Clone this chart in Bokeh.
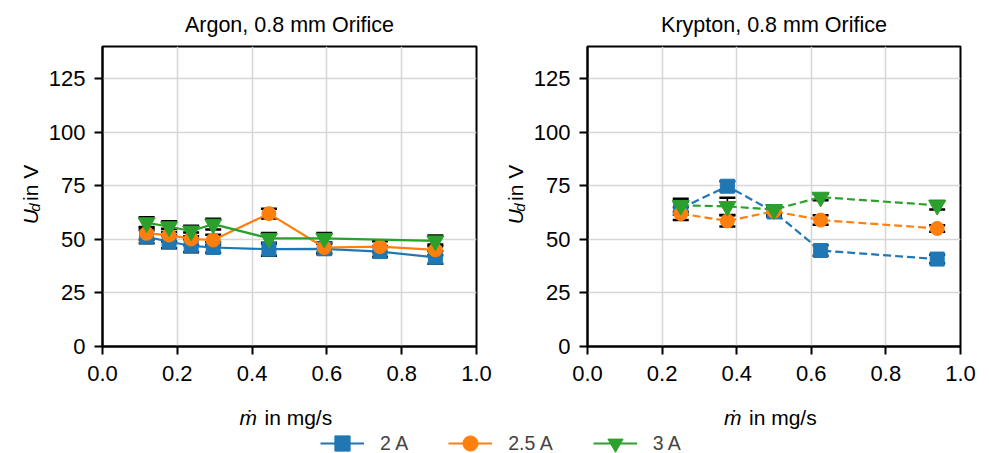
import math
from bokeh.plotting import figure
from bokeh.models import (FixedTicker, PrintfTickFormatter, Whisker, TeeHead,
                          ColumnDataSource, Legend, LegendItem, Range1d)
from bokeh.core.properties import value
from bokeh.layouts import row, column
from bokeh.embed import file_html
from bokeh.resources import INLINE

# ---------------- data ----------------
ar_x_2 = [0.118, 0.178, 0.237, 0.296, 0.445, 0.593, 0.742, 0.890]
ar_y_2 = [51.2, 48.9, 47.0, 46.2, 45.4, 45.6, 44.3, 41.6]
ar_e_2 = [3.0, 3.0, 3.0, 2.5, 3.0, 2.5, 2.5, 3.0]

ar_x_25 = [0.118, 0.178, 0.237, 0.296, 0.445, 0.593, 0.742, 0.890]
ar_y_25 = [52.8, 52.0, 50.2, 49.7, 62.0, 46.2, 46.6, 45.1]
ar_e_25 = [3.0, 3.0, 3.0, 2.5, 2.3, 2.5, 2.5, 2.5]

ar_x_3 = [0.118, 0.178, 0.237, 0.296, 0.445, 0.593, 0.890]
ar_y_3 = [57.8, 55.9, 53.9, 57.1, 50.5, 50.5, 49.3]
ar_e_3 = [2.5, 2.5, 2.5, 2.5, 2.5, 2.5, 2.5]

kr_x = [0.25, 0.375, 0.5, 0.625, 0.9375]
kr_y_2 = [64.5, 74.8, 62.8, 44.8, 40.8]
kr_e_2 = [3.0, 2.3, 2.0, 2.5, 2.0]
kr_y_25 = [62.0, 58.6, 63.1, 59.0, 55.1]
kr_e_25 = [3.0, 2.6, 2.0, 2.2, 1.5]
kr_y_3 = [65.9, 65.4, 63.9, 69.7, 65.9]
kr_e_3 = [3.0, 4.0, 2.0, 1.5, 2.0]

series_labels = ["2 A", "2.5 A", "3 A"]
colors = ["#1f77b4", "#ff7f0e", "#2ca02c"]
markers = ["square", "circle", "inverted_triangle"]
marker_sizes = [14, 14, 17]

x_ticks = [0.0, 0.2, 0.4, 0.6, 0.8, 1.0]
y_ticks = [0, 25, 50, 75, 100, 125]
titles = ["Argon, 0.8 mm Orifice", "Krypton, 0.8 mm Orifice"]
x_label_sym = "\u1e41"
x_label_rest = "in mg/s"
y_label_sym = "U"
y_label_sub = "d"
y_label_rest = "in V"

# ---------------- layout constants (page pixels) ----------------
FONT = "Liberation Sans"
FS = 21          # axis label size
TICK_FS = 22     # tick label size
TITLE_FS = 21.5
SUB_FS = 15
TOP = 43
BOTTOM_PX = 346
PLOT_H = 388
Y_MAX = 140.0
YLAB_W = [45, 35]
FRAME_LEFT = [102, 587]
FRAME_W = [374, 373]
FIG_LEFT = [0, 494]
FIG_W = [494, 495]


def style_plot(p):
    p.title.align = "center"
    p.title.text_font = FONT
    p.title.text_font_size = f"{TITLE_FS}px"
    p.title.text_font_style = "normal"
    p.title.text_color = "black"
    p.title.standoff = 20
    p.background_fill_color = "white"
    p.border_fill_color = "white"
    p.outline_line_color = "black"
    p.outline_line_width = 2
    p.outline_line_alpha = 1.0
    p.xaxis.ticker = FixedTicker(ticks=x_ticks)
    p.xaxis.formatter = PrintfTickFormatter(format="%.1f")
    p.yaxis.ticker = FixedTicker(ticks=y_ticks)
    for ax in (p.xaxis, p.yaxis):
        ax.axis_line_width = 2
        ax.axis_line_color = "black"
        ax.major_tick_line_width = 2
        ax.major_tick_line_color = "black"
        ax.major_tick_out = 8
        ax.major_tick_in = 0
        ax.minor_tick_out = 0
        ax.minor_tick_in = 0
        ax.major_label_text_font = FONT
        ax.major_label_text_font_size = f"{TICK_FS}px"
        ax.major_label_text_color = "black"
    p.xaxis.major_label_standoff = 11
    p.yaxis.major_label_standoff = 9
    p.grid.grid_line_color = "#d6d6d6"
    p.grid.grid_line_width = 1.5


def make_plot(i, sets, dashed):
    left = FRAME_LEFT[i] - FIG_LEFT[i] - YLAB_W[i]
    right = FIG_W[i] - YLAB_W[i] - left - FRAME_W[i]
    p = figure(width=FIG_W[i] - YLAB_W[i], height=PLOT_H, x_range=Range1d(0, 1),
               y_range=Range1d(0, Y_MAX), output_backend="svg",
               toolbar_location=None, min_border_left=left,
               min_border_right=right, min_border_top=TOP,
               min_border_bottom=PLOT_H - BOTTOM_PX, title=titles[i])
    style_plot(p)
    for (xs, ys, es), col in zip(sets, colors):
        src = ColumnDataSource(dict(x=xs, upper=[y + e for y, e in zip(ys, es)],
                                    lower=[y - e for y, e in zip(ys, es)]))
        w = Whisker(base="x", upper="upper", lower="lower", source=src,
                    line_color="black", line_width=1.5, level="underlay",
                    upper_head=TeeHead(size=16, line_width=2.5, line_color="black"),
                    lower_head=TeeHead(size=16, line_width=2.5, line_color="black"))
        p.add_layout(w)
    for (xs, ys, es), col, mk, ms in zip(sets, colors, markers, marker_sizes):
        kw = dict(line_dash="8 4") if dashed else {}
        p.line(xs, ys, line_color=col, line_width=2.2, **kw)
        p.scatter(xs, ys, marker=mk, size=ms, fill_color=col, line_color=col)
    return p


def make_ylabel(i):
    # a narrow strip in pixel coordinates holding the rotated y-axis label
    wdt = YLAB_W[i]
    q = figure(width=wdt, height=PLOT_H, x_range=Range1d(0, wdt),
               y_range=Range1d(0, PLOT_H), output_backend="svg",
               toolbar_location=None, min_border=0,
               x_axis_type=None, y_axis_type=None)
    q.outline_line_color = None
    q.grid.visible = False
    bx = FRAME_LEFT[i] - 72 - FIG_LEFT[i]
    py_u = 230
    py_d = py_u - 0.722 * FS - 1.0
    py_r = py_d - 0.556 * SUB_FS - 0.278 * FS
    common = dict(angle=math.pi / 2, text_align="left",
                  text_baseline="alphabetic", text_color="black",
                  text_font=value(FONT))
    q.text(x=[bx], y=[PLOT_H - py_u], text=[y_label_sym],
           text_font_size=f"{FS}px", text_font_style="italic", **common)
    q.text(x=[bx + 4], y=[PLOT_H - py_d], text=[y_label_sub],
           text_font_size=f"{SUB_FS}px", text_font_style="italic", **common)
    q.text(x=[bx], y=[PLOT_H - py_r], text=[y_label_rest],
           text_font_size=f"{FS}px", **common)
    return q


ar_sets = [(ar_x_2, ar_y_2, ar_e_2), (ar_x_25, ar_y_25, ar_e_25),
           (ar_x_3, ar_y_3, ar_e_3)]
kr_sets = [(kr_x, kr_y_2, kr_e_2), (kr_x, kr_y_25, kr_e_25),
           (kr_x, kr_y_3, kr_e_3)]

p1 = make_plot(0, ar_sets, False)
p2 = make_plot(1, kr_sets, True)
y1 = make_ylabel(0)
y2 = make_ylabel(1)

# bottom strip: x-axis labels + legend, in page-pixel coordinates
BOT_H = 453 - PLOT_H
pb = figure(width=989, height=BOT_H, x_range=Range1d(0, 989),
            y_range=Range1d(0, BOT_H), output_backend="svg",
            toolbar_location=None, min_border=0,
            x_axis_type=None, y_axis_type=None)
pb.outline_line_color = None
pb.grid.visible = False
for i in range(2):
    cx = FRAME_LEFT[i] + FRAME_W[i] / 2
    yb = 453 - 417
    pb.text(x=[cx - 50], y=[yb], text=[x_label_sym], text_font=value(FONT),
            text_font_size=f"{FS}px", text_font_style="italic",
            text_align="left", text_baseline="alphabetic", text_color="black")
    pb.text(x=[cx - 25], y=[yb], text=[x_label_rest], text_font=value(FONT),
            text_font_size=f"{FS}px", text_align="left",
            text_baseline="alphabetic", text_color="black")

items = []
for lab, col, mk, ms in zip(series_labels, colors, markers, marker_sizes):
    # placed far outside the visible range, so only the legend glyph shows
    r1 = pb.line([-100, -90], [-100, -100], line_color=col, line_width=2.2)
    r2 = pb.scatter([-100], [-100], marker=mk, size=ms, fill_color=col, line_color=col)
    items.append(LegendItem(label=lab, renderers=[r1, r2]))
leg = Legend(items=items, orientation="horizontal", location=(320, -9),
             glyph_width=44, glyph_height=38, label_standoff=16, spacing=40,
             padding=0, margin=0, border_line_color=None,
             background_fill_alpha=0, label_text_font=FONT,
             label_text_font_size="19.5px", label_height=20)
pb.add_layout(leg, "center")

layout = column(row(y1, p1, y2, p2), pb)

open("out.html", "w").write(file_html(layout, INLINE))
